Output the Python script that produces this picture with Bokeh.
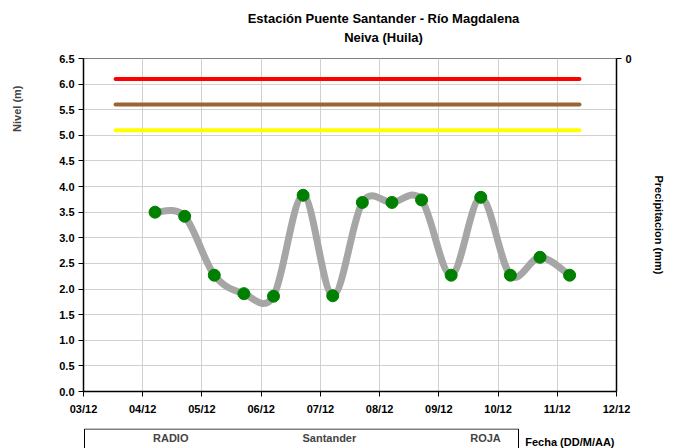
import numpy as np
from bokeh.plotting import figure
from bokeh.layouts import column
from bokeh.models import (Range1d, LinearAxis, FixedTicker, DaysTicker, DatetimeTickFormatter,
                          NumeralTickFormatter, Label, Legend, LegendItem, Title)
from bokeh.embed import file_html
from bokeh.resources import INLINE

# ---------------- data ----------------
title_lines = ["Estación Puente Santander - Río Magdalena", "Neiva (Huila)"]
y_label = "Nivel (m)"
y2_label = "Precipitacion (mm)"
x_label = "Fecha (DD/M/AA)"

radio_times = ["2012-12-04T05:00", "2012-12-04T17:00", "2012-12-05T05:00", "2012-12-05T17:00",
               "2012-12-06T05:00", "2012-12-06T17:00", "2012-12-07T05:00", "2012-12-07T17:00",
               "2012-12-08T05:00", "2012-12-08T17:00", "2012-12-09T05:00", "2012-12-09T17:00",
               "2012-12-10T05:00", "2012-12-10T17:00", "2012-12-11T05:00"]
radio_levels = [3.50, 3.42, 2.27, 1.91, 1.86, 3.83, 1.87, 3.69, 3.69, 3.74, 2.27, 3.79, 2.27, 2.62, 2.27]

threshold_names = ["ROJA", "NARANJA", "AMARILLA"]
threshold_levels = [6.1, 5.6, 5.1]
threshold_colors = ["#FF0000", "#996633", "#FFFF00"]
threshold_span = ["2012-12-03T13:00", "2012-12-11T09:00"]

santander_times = []
santander_values = []

x_start, x_end = "2012-12-03", "2012-12-12"
tick_days = [3, 4, 5, 6, 7, 8, 9, 10, 11, 12]
y_ticks = [0.0, 0.5, 1.0, 1.5, 2.0, 2.5, 3.0, 3.5, 4.0, 4.5, 5.0, 5.5, 6.0, 6.5]
y2_ticks = [0]

FONT = "Liberation Sans"
W = 676


def ms(a):
    return np.array(a, dtype="datetime64[ms]").astype(np.int64).astype(float)


def blank_fig(h, x0, x1):
    f = figure(width=W, height=h, output_backend="svg", toolbar_location=None,
               x_range=Range1d(x0, x1), y_range=Range1d(0, h),
               x_axis_location=None, y_axis_location=None, min_border=0)
    f.grid.visible = False
    f.outline_line_color = None
    return f


# ---------------- header (title) ----------------
head = blank_fig(48, 0, 1)
for txt, yy in zip(title_lines, [30, 11]):
    head.add_layout(Label(x=300, y=yy, x_units="screen", y_units="screen", text=txt,
                          text_align="center", text_baseline="middle", text_font=FONT,
                          text_font_style="bold", text_font_size="13px", text_color="black"))

# ---------------- main plot ----------------
p = figure(width=W, height=380, output_backend="svg", toolbar_location=None,
           x_axis_type="datetime",
           x_range=Range1d(ms([x_start])[0], ms([x_end])[0]),
           y_range=Range1d(0, 6.5),
           min_border_left=83, min_border_right=60, min_border_top=10, min_border_bottom=37)
p.outline_line_color = "#808080"

p.extra_y_ranges = {"precip": Range1d(start=10, end=0)}
right_axis = LinearAxis(y_range_name="precip", ticker=FixedTicker(ticks=y2_ticks))
p.add_layout(right_axis, "right")

p.xaxis.ticker = DaysTicker(days=tick_days)
p.xaxis.formatter = DatetimeTickFormatter(days="%d/%m", months="%d/%m")
p.yaxis[0].ticker = FixedTicker(ticks=y_ticks)
p.yaxis[0].formatter = NumeralTickFormatter(format="0.0")

for ax in p.axis:
    ax.axis_line_color = "black"
    ax.axis_line_width = 1.5
    ax.major_tick_line_color = "black"
    ax.major_tick_in = 0
    ax.major_tick_out = 5
    ax.minor_tick_line_color = None
    ax.major_label_text_font = FONT
    ax.major_label_text_font_style = "bold"
    ax.major_label_text_font_size = "11px"
    ax.major_label_text_color = "black"
    ax.major_label_standoff = 4
    ax.axis_label_text_font_size = "11px"
p.xaxis.major_label_standoff = 6

# left axis title: blank axis label reserves room, a side Title holds the text
p.yaxis[0].axis_label = " "
p.yaxis[0].axis_label_standoff = 14
p.add_layout(Title(text=y_label, align="right", offset=27, text_font=FONT,
                   text_font_style="bold", text_font_size="11px"), "left")

# right axis title on a label-only axis
y2_title_axis = LinearAxis(y_range_name="precip", ticker=FixedTicker(ticks=[]),
                           axis_label=y2_label, axis_line_color=None,
                           major_tick_line_color=None, minor_tick_line_color=None,
                           axis_label_standoff=18, axis_label_text_font=FONT,
                           axis_label_text_font_style="bold", axis_label_text_font_size="11px",
                           axis_label_text_color="black")
p.add_layout(y2_title_axis, "right")

p.xgrid.grid_line_color = "#d0d0d0"
p.ygrid.grid_line_color = "#d0d0d0"
p.xgrid.ticker = DaysTicker(days=tick_days)
p.ygrid.ticker = FixedTicker(ticks=y_ticks)

# thresholds
tspan = np.array(threshold_span, dtype="datetime64[ms]")
for lvl, col in zip(threshold_levels, threshold_colors):
    p.line(x=tspan, y=[lvl, lvl], line_color=col, line_width=4, line_cap="round")

# smoothed RADIO line (Catmull-Rom style bezier through the data points)
X = ms(radio_times)
Y = np.array(radio_levels, dtype=float)
n = len(X)
x0, y0, x1, y1, cx0, cy0, cx1, cy1 = ([] for _ in range(8))
for i in range(n - 1):
    a = max(i - 1, 0)
    d = min(i + 2, n - 1)
    x0.append(X[i]); y0.append(Y[i]); x1.append(X[i + 1]); y1.append(Y[i + 1])
    cx0.append(X[i] + (X[i + 1] - X[a]) / 6); cy0.append(Y[i] + (Y[i + 1] - Y[a]) / 6)
    cx1.append(X[i + 1] - (X[d] - X[i]) / 6); cy1.append(Y[i + 1] - (Y[d] - Y[i]) / 6)
p.bezier(x0=x0, y0=y0, x1=x1, y1=y1, cx0=cx0, cy0=cy0, cx1=cx1, cy1=cy1,
         line_color="#A6A6A6", line_width=7, line_cap="round")
p.scatter(x=np.array(radio_times, dtype="datetime64[ms]"), y=radio_levels, size=12,
          fill_color="#008000", line_color="#008000")
p.line(x=santander_times, y=santander_values, line_color="#0000FF", line_width=4)

# ---------------- footer (legend + x-axis title) ----------------
foot = blank_fig(20, 83, 616)
foot.quad(left=[84], right=[518], top=[19.5], bottom=[-5], fill_color=None,
          line_color="black", line_width=1)
lg_radio_line = foot.line(x=[], y=[], line_color="#A6A6A6", line_width=6)
lg_radio_pt = foot.scatter(x=[], y=[], size=11, fill_color="#008000", line_color="#008000")
lg_sant = foot.line(x=[], y=[], line_color="#0000FF", line_width=4)
lg_roja = foot.line(x=[], y=[], line_color=threshold_colors[0], line_width=4)
legend = Legend(items=[LegendItem(label="RADIO", renderers=[lg_radio_line, lg_radio_pt]),
                       LegendItem(label="Santander", renderers=[lg_sant]),
                       LegendItem(label=threshold_names[0], renderers=[lg_roja])],
                orientation="horizontal", location=(12, 0), border_line_color=None,
                background_fill_alpha=0, glyph_width=54, glyph_height=20, label_height=20,
                label_standoff=4, spacing=56, padding=0, margin=0,
                label_text_font=FONT, label_text_font_style="bold", label_text_font_size="11px")
foot.add_layout(legend)
foot.add_layout(Label(x=531, y=13, x_units="screen", y_units="screen", text=x_label,
                      text_align="right", text_baseline="top", text_font=FONT,
                      text_font_style="bold", text_font_size="11px", text_color="black"))

layout = column(head, p, foot, spacing=0)
open("out.html", "w").write(file_html(layout, INLINE))
